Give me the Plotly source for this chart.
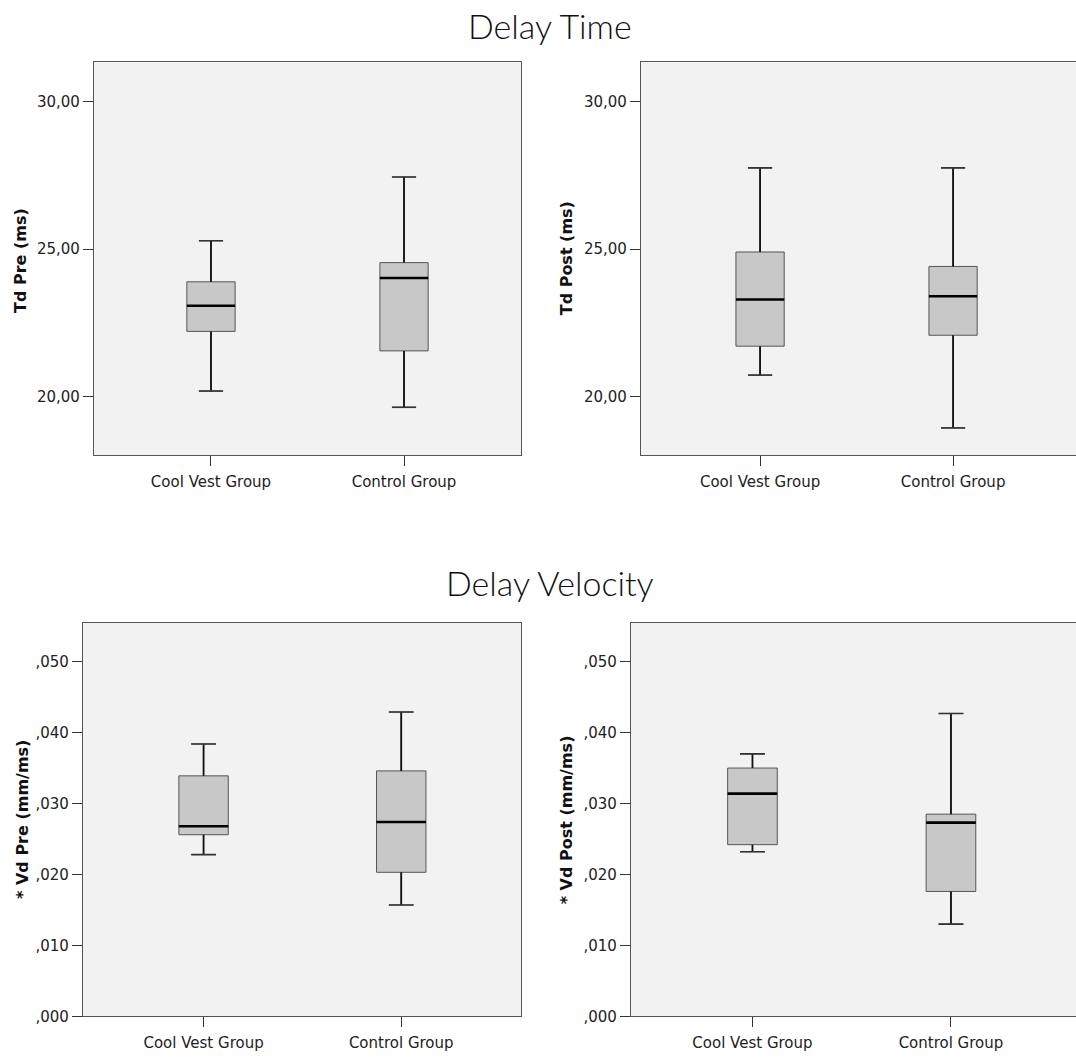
import plotly.graph_objects as go

# ---------------- data ----------------
categories = ["Cool Vest Group", "Control Group"]

td_pre_low = [20.19, 19.64]
td_pre_q1 = [22.21, 21.55]
td_pre_med = [23.08, 24.02]
td_pre_q3 = [23.89, 24.54]
td_pre_high = [25.28, 27.44]

td_post_low = [20.73, 18.94]
td_post_q1 = [21.71, 22.08]
td_post_med = [23.29, 23.40]
td_post_q3 = [24.90, 24.41]
td_post_high = [27.75, 27.75]

vd_pre_low = [0.0228, 0.0157]
vd_pre_q1 = [0.0256, 0.0203]
vd_pre_med = [0.0268, 0.0274]
vd_pre_q3 = [0.0339, 0.0346]
vd_pre_high = [0.0384, 0.0429]

vd_post_low = [0.0232, 0.0130]
vd_post_q1 = [0.0242, 0.0176]
vd_post_med = [0.0314, 0.0273]
vd_post_q3 = [0.0350, 0.0285]
vd_post_high = [0.0370, 0.0427]

td_tick_vals = [20, 25, 30]
td_tick_text = ["20,00", "25,00", "30,00"]
vd_tick_vals = [0.0, 0.01, 0.02, 0.03, 0.04, 0.05]
vd_tick_text = [",000", ",010", ",020", ",030", ",040", ",050"]

titles = ["Delay Time", "Delay Velocity"]
y_titles = ["Td Pre (ms)", "Td Post (ms)", "* Vd Pre (mm/ms)", "* Vd Post (mm/ms)"]

# ---------------- styling / layout ----------------
W, H = 1076, 1058
BOX_W = 0.25
FONT = "DejaVu Sans"

panels = [
    dict(low=td_pre_low, q1=td_pre_q1, med=td_pre_med, q3=td_pre_q3, high=td_pre_high,
         xdom=[94 / W, 521 / W], ydom=[1 - 459 / H, 1 - 63 / H], xr=[-0.606, 1.606],
         yr=[18.02, 31.32], tv=td_tick_vals, tt=td_tick_text, right=True,
         tpos=(20.7, 262.5)),
    dict(low=td_post_low, q1=td_post_q1, med=td_post_med, q3=td_post_q3, high=td_post_high,
         xdom=[641 / W, 1.0], ydom=[1 - 459 / H, 1 - 63 / H], xr=[-0.617, 1.637],
         yr=[18.02, 31.32], tv=td_tick_vals, tt=td_tick_text, right=False,
         tpos=(566.7, 260.8)),
    dict(low=vd_pre_low, q1=vd_pre_q1, med=vd_pre_med, q3=vd_pre_q3, high=vd_pre_high,
         xdom=[83 / W, 521 / W], ydom=[1 - 1025 / H, 1 - 628 / H], xr=[-0.61, 1.606],
         yr=[0.0, 0.0555], tv=vd_tick_vals, tt=vd_tick_text, right=True,
         tpos=(22.3, 826.7)),
    dict(low=vd_post_low, q1=vd_post_q1, med=vd_post_med, q3=vd_post_q3, high=vd_post_high,
         xdom=[631 / W, 1.0], ydom=[1 - 1025 / H, 1 - 628 / H], xr=[-0.612, 1.63],
         yr=[0.0, 0.0555], tv=vd_tick_vals, tt=vd_tick_text, right=False,
         tpos=(566.7, 826.7)),
]

fig = go.Figure()
layout = dict(
    width=W, height=H, margin=dict(l=0, r=0, t=0, b=0),
    paper_bgcolor="white", showlegend=False,
    font=dict(family=FONT, size=15, color="#222"),
)
annotations = []

for k, p in enumerate(panels):
    n = "" if k == 0 else str(k + 1)
    xa, ya = "x" + n, "y" + n
    xpos = list(range(len(categories)))

    # box body (plotly box trace)
    fig.add_trace(go.Box(
        x=xpos, q1=p["q1"], median=p["med"], q3=p["q3"],
        lowerfence=p["low"], upperfence=p["high"],
        width=BOX_W, whiskerwidth=0.5, fillcolor="#c8c8c8",
        line=dict(color="#555555", width=1), boxpoints=False,
        xaxis=xa, yaxis=ya, hoverinfo="skip",
    ))
    # whiskers, caps, medians drawn on top in black
    wx, wy, cx, cy, mx, my = [], [], [], [], [], []
    for i in xpos:
        wx += [i, i, None, i, i, None]
        wy += [p["low"][i], p["q1"][i], None, p["q3"][i], p["high"][i], None]
        for f in (p["low"][i], p["high"][i]):
            cx += [i - BOX_W / 4, i + BOX_W / 4, None]
            cy += [f, f, None]
        mx += [i - BOX_W / 2, i + BOX_W / 2, None]
        my += [p["med"][i], p["med"][i], None]
    fig.add_trace(go.Scatter(x=wx, y=wy, mode="lines", line=dict(color="#111", width=1.8),
                             xaxis=xa, yaxis=ya, hoverinfo="skip"))
    fig.add_trace(go.Scatter(x=cx, y=cy, mode="lines", line=dict(color="#333", width=1.6),
                             xaxis=xa, yaxis=ya, hoverinfo="skip"))
    fig.add_trace(go.Scatter(x=mx, y=my, mode="lines", line=dict(color="#000", width=2.6),
                             xaxis=xa, yaxis=ya, hoverinfo="skip"))

    layout["xaxis" + n] = dict(
        domain=p["xdom"], range=p["xr"], anchor=ya,
        tickvals=xpos, ticktext=categories, ticks="outside", ticklen=10,
        tickcolor="#333", tickwidth=1, showgrid=False, zeroline=False,
        showline=True, linecolor="#555", linewidth=1.2, mirror=True,
        ticklabelstandoff=3,
        tickfont=dict(family=FONT, size=15, color="#222"), fixedrange=True,
    )
    layout["yaxis" + n] = dict(
        domain=p["ydom"], range=p["yr"], anchor=xa,
        tickvals=p["tv"], ticktext=p["tt"], ticks="outside", ticklen=10,
        tickcolor="#333", tickwidth=1, showgrid=False, zeroline=False,
        showline=True, linecolor="#555", linewidth=1.2,
        mirror=True if p["right"] else False,
        tickfont=dict(family=FONT, size=15, color="#222"), fixedrange=True,
    )
    annotations.append(dict(
        text="<b>" + y_titles[k] + "</b>", textangle=-90, showarrow=False,
        xref="paper", yref="paper", x=p["tpos"][0] / W, y=1 - p["tpos"][1] / H,
        xanchor="center", yanchor="middle",
        font=dict(family=FONT, size=16, color="#111"),
    ))

annotations.append(dict(text=titles[0], showarrow=False, xref="paper", yref="paper",
                        x=549.5 / W, y=1 - 26 / H, xanchor="center", yanchor="middle",
                        font=dict(family="Lato", size=34, color="#111", weight=300)))
annotations.append(dict(text=titles[1], showarrow=False, xref="paper", yref="paper",
                        x=550 / W, y=1 - 588 / H, xanchor="center", yanchor="middle",
                        font=dict(family="Lato", size=34, color="#111", weight=300)))

layout["annotations"] = annotations
layout["plot_bgcolor"] = "#f2f2f2"
fig.update_layout(**layout)

fig.write_html("out.html")
